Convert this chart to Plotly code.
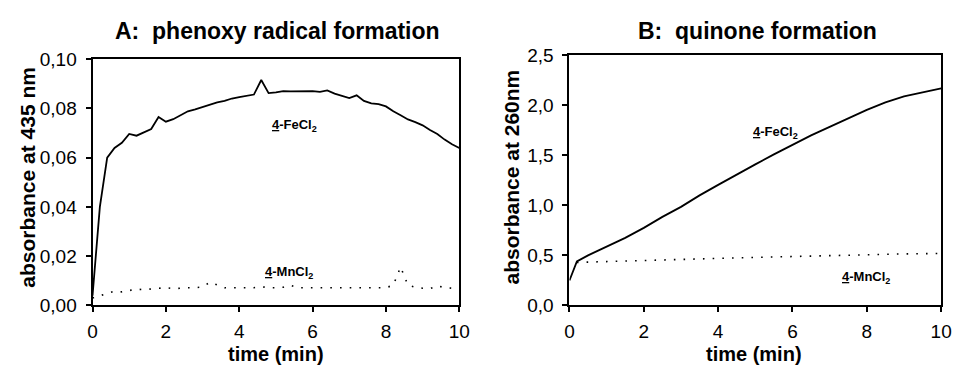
import plotly.graph_objects as go

# ---------------- data ----------------
# Panel A: absorbance at 435 nm (phenoxy radical formation)
time_a = [round(0.2 * i, 1) for i in range(51)]
fe_a = [0.004, 0.040, 0.060, 0.0639, 0.066, 0.0696, 0.0689, 0.0703, 0.0716, 0.0765,
        0.0746, 0.0756, 0.0773, 0.0788, 0.0796, 0.0806, 0.0815, 0.0824, 0.0830, 0.0840,
        0.0846, 0.0852, 0.0856, 0.0915, 0.0862, 0.0865, 0.0870, 0.0869, 0.0870, 0.0869,
        0.0870, 0.0867, 0.0873, 0.0860, 0.0852, 0.0842, 0.0853, 0.0830, 0.0820, 0.0817,
        0.0808, 0.0788, 0.0772, 0.0755, 0.0744, 0.0731, 0.0712, 0.0696, 0.0673, 0.0654,
        0.0639]
mn_a = [0.003, 0.004, 0.0050, 0.0058, 0.0055, 0.0062, 0.0066, 0.0064, 0.0066, 0.0068,
        0.0072, 0.0068, 0.0071, 0.0072, 0.0072, 0.0075, 0.0094, 0.0083, 0.0072, 0.0072,
        0.0072, 0.0073, 0.0072, 0.0076, 0.0072, 0.0072, 0.0074, 0.0082, 0.0072, 0.0072,
        0.0072, 0.0072, 0.0072, 0.0073, 0.0072, 0.0072, 0.0072, 0.0071, 0.0072, 0.0072,
        0.0072, 0.0082, 0.0156, 0.0082, 0.0074, 0.0070, 0.0068, 0.0080, 0.0072, 0.0070,
        0.0068]

# Panel B: absorbance at 260 nm (quinone formation)
time_b_fe = [0, 0.2, 0.5, 1.0, 1.5, 2.0, 2.5, 3.0, 3.5, 4.0, 4.5, 5.0, 5.5, 6.0, 6.5,
             7.0, 7.5, 8.0, 8.5, 9.0, 9.5, 10.0]
fe_b = [0.25, 0.44, 0.50, 0.585, 0.675, 0.775, 0.885, 0.985, 1.10, 1.205, 1.31, 1.41,
        1.51, 1.605, 1.70, 1.785, 1.87, 1.955, 2.03, 2.09, 2.13, 2.17]
time_b_mn = [0.2, 1, 2, 3, 4, 5, 6, 7, 8, 9, 10]
mn_b = [0.43, 0.44, 0.45, 0.46, 0.47, 0.48, 0.49, 0.50, 0.51, 0.515, 0.52]

x_ticks = [0, 2, 4, 6, 8, 10]
y_ticks_a = [0, 0.02, 0.04, 0.06, 0.08, 0.10]
y_ticks_b = [0, 0.5, 1.0, 1.5, 2.0, 2.5]

# ---------------- figure ----------------
W, H = 963, 374
FONT = "Liberation Sans, Arial, sans-serif"

def px(x):
    return x / W

def py(y):
    return 1 - y / H

fig = go.Figure()
solid = dict(color="black", width=1.8)
dotted = dict(color="black", width=1.6, dash="1.6px,8.1px")

fig.add_trace(go.Scatter(x=time_a, y=fe_a, mode="lines", line=solid, xaxis="x", yaxis="y"))
fig.add_trace(go.Scatter(x=time_a, y=mn_a, mode="lines", line=dotted, xaxis="x", yaxis="y"))
fig.add_trace(go.Scatter(x=time_b_fe, y=fe_b, mode="lines", line=solid, xaxis="x2", yaxis="y2"))
fig.add_trace(go.Scatter(x=time_b_mn, y=mn_b, mode="lines", line=dotted, xaxis="x2", yaxis="y2"))

axis_common = dict(showline=True, linecolor="black", linewidth=2, mirror=True,
                   ticks="outside", ticklen=5, tickwidth=2, tickcolor="black",
                   showgrid=False, zeroline=False,
                   tickfont=dict(family=FONT, size=19, color="black"))

fig.update_layout(
    width=W, height=H,
    margin=dict(l=0, r=0, t=0, b=0),
    paper_bgcolor="white", plot_bgcolor="white",
    showlegend=False,
    separators=",.",
    xaxis=dict(domain=[px(89), px(462)], range=[0, 10], tickvals=x_ticks,
               anchor="y", ticklabelstandoff=3, **axis_common),
    yaxis=dict(domain=[py(313), py(52)], range=[0, 0.10], tickvals=y_ticks_a,
               tickformat=".2f", anchor="x", ticklabelstandoff=5, **axis_common),
    xaxis2=dict(domain=[px(574), px(952)], range=[0, 10], tickvals=x_ticks,
                anchor="y2", ticklabelstandoff=3, **axis_common),
    yaxis2=dict(domain=[py(313), py(48)], range=[0, 2.5], tickvals=y_ticks_b,
                tickformat=".1f", anchor="x2", ticklabelstandoff=5, **axis_common),
)

ann = []
def text(x, y, s, size, **kw):
    d = dict(x=px(x), y=py(y), xref="paper", yref="paper", text=s, showarrow=False,
             font=dict(family=FONT, size=size, color="black"),
             xanchor="center", yanchor="middle", borderpad=0)
    d.update(kw)
    ann.append(d)

text(277, 22, "<b>A:\u00a0 phenoxy radical formation</b>", 23)
text(765, 22, "<b>B:\u00a0 quinone formation</b>", 23)
text(276, 364, "<b>time (min)</b>", 20)
text(762, 364, "<b>time (min)</b>", 20)
text(22, 177, "<b>absorbance at 435 nm</b>", 21, textangle=-90)
text(515, 177, "<b>absorbance at 260nm</b>", 21, textangle=-90)

lab_fe = '<b><span style="text-decoration:underline">4</span>-FeCl<sub>2</sub></b>'
lab_mn = '<b><span style="text-decoration:underline">4</span>-MnCl<sub>2</sub></b>'
for s, xv, yv, xr, yr in [(lab_fe, 5.5, 0.073, "x", "y"), (lab_mn, 5.35, 0.0135, "x", "y"),
                          (lab_fe, 5.53, 1.73, "x2", "y2"), (lab_mn, 7.99, 0.28, "x2", "y2")]:
    ann.append(dict(x=xv, y=yv, xref=xr, yref=yr, text=s, showarrow=False,
                    font=dict(family=FONT, size=13, color="black"),
                    xanchor="center", yanchor="middle"))

fig.update_layout(annotations=ann)
fig.write_html("out.html")
